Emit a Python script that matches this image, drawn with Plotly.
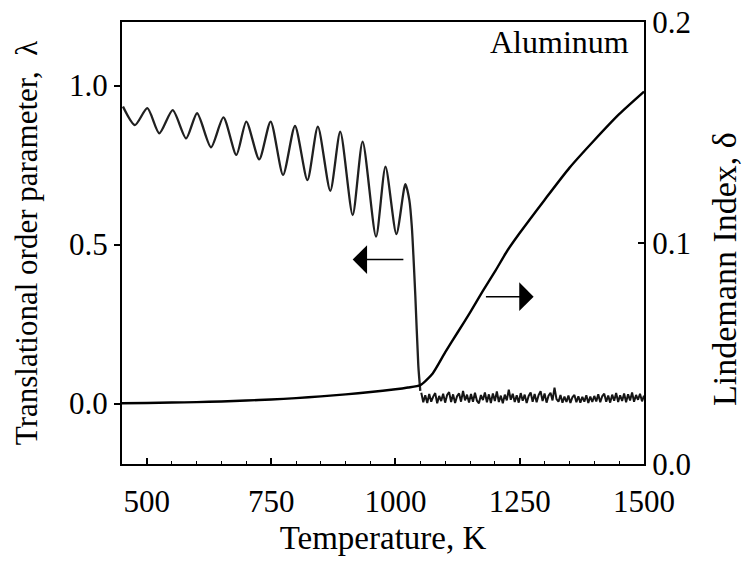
import plotly.graph_objects as go

# Translational order parameter (left axis) - oscillating solid part
T_solid = [452, 476, 501, 525, 552, 579, 601, 629, 654, 680, 700, 726, 749, 774,
           798, 823, 844, 869, 889, 914, 934, 961, 980, 1002, 1020, 1028, 1033,
           1040, 1046, 1050]
lam_solid = [0.934, 0.876, 0.929, 0.850, 0.923, 0.834, 0.913, 0.806, 0.900, 0.782,
             0.887, 0.768, 0.887, 0.719, 0.873, 0.703, 0.871, 0.669, 0.855, 0.593,
             0.824, 0.525, 0.745, 0.533, 0.690, 0.640, 0.556, 0.340, 0.120, 0.040]

# Liquid part (noisy around zero), sampled every 4 K from 1052 K
T_liquid = list(range(1052, 1501, 4))
lam_liquid = [
    0.034, 0.004, 0.026, 0.002, 0.030, 0.006, 0.022, 0.033, 0.001, 0.024,
    0.008, 0.031, 0.003, 0.027, 0.036, 0.005, 0.029, 0.002, 0.023, 0.032,
    0.006, 0.040, 0.010, 0.028, 0.003, 0.030, 0.006, 0.034, 0.009, 0.001,
    0.027, 0.011, 0.035, 0.004, 0.029, 0.002, 0.032, 0.008, 0.038, 0.005,
    0.025, 0.001, 0.028, 0.010, 0.044, 0.012, 0.031, 0.005, 0.026, 0.003,
    0.033, 0.009, 0.028, 0.002, 0.024, 0.035, 0.006, 0.030, 0.004, 0.027,
    0.039, 0.008, 0.032, 0.003, 0.025, 0.034, 0.010, 0.050, 0.014, 0.006,
    0.027, 0.003, 0.022, 0.005, 0.025, 0.002, 0.020, 0.027, 0.004, 0.023,
    0.003, 0.021, 0.006, 0.026, 0.002, 0.022, 0.005, 0.024, 0.007, 0.029,
    0.004, 0.023, 0.031, 0.006, 0.025, 0.003, 0.028, 0.009, 0.033, 0.005,
    0.026, 0.008, 0.032, 0.004, 0.029, 0.010, 0.035, 0.006, 0.027, 0.012,
    0.031, 0.007, 0.025,
]

# Lindemann index (right axis)
T_delta = [450, 500, 550, 600, 650, 700, 750, 800, 850, 900, 950, 1000, 1025,
           1050, 1075, 1100, 1125, 1150, 1175, 1200, 1225, 1250, 1300, 1350,
           1400, 1450, 1500]
delta = [0.0275, 0.0276, 0.0278, 0.0280, 0.0283, 0.0287, 0.0292, 0.0298, 0.0306,
         0.0315, 0.0326, 0.0338, 0.0346, 0.0357, 0.0410, 0.0505, 0.0595, 0.0685,
         0.0780, 0.0870, 0.0965, 0.1045, 0.1195, 0.1340, 0.1465, 0.1583, 0.1685]

x_ticks = [500, 750, 1000, 1250, 1500]
y_ticks = [0.0, 0.5, 1.0]
y2_ticks = [0.0, 0.1, 0.2]

FONT = "Liberation Serif"
FS = 31

fig = go.Figure()
fig.add_trace(go.Scatter(x=T_solid, y=lam_solid, mode="lines",
                         line=dict(color="#202020", width=2.3, shape="spline", smoothing=0.7),
                         showlegend=False))
fig.add_trace(go.Scatter(x=T_liquid, y=lam_liquid, mode="lines",
                         line=dict(color="#151515", width=2),
                         showlegend=False))
fig.add_trace(go.Scatter(x=T_delta, y=delta, mode="lines", yaxis="y2",
                         line=dict(color="black", width=2.4, shape="spline", smoothing=0.6),
                         showlegend=False))

fig.update_layout(
    width=749, height=562,
    margin=dict(l=122, r=105, t=22, b=98),
    paper_bgcolor="white", plot_bgcolor="white",
    font=dict(family=FONT, size=FS, color="black"),
    xaxis=dict(range=[450, 1500], tickvals=x_ticks, ticks="inside", ticklen=6,
               tickwidth=1.5, tickcolor="black", automargin=False,
               minor=dict(dtick=50, ticks="inside", ticklen=3, tickcolor="black", tickwidth=1),
               showline=True, linecolor="black", linewidth=2, mirror=True,
               showgrid=False, zeroline=False, ticklabelstandoff=9,
               title=dict(text="Temperature, K", standoff=8, font=dict(size=33))),
    yaxis=dict(range=[-0.19, 1.2], tickvals=y_ticks, tickformat=".1f",
               ticks="outside", ticklen=6, tickwidth=1.5, tickcolor="black",
               showline=True, linecolor="black", linewidth=2, automargin=False,
               showgrid=False, zeroline=False,
               title=dict(text="Translational order parameter,  λ", standoff=22,
                          font=dict(size=31))),
    yaxis2=dict(range=[0, 0.2], tickvals=y2_ticks, tickformat=".1f",
                overlaying="y", side="right", automargin=False,
                ticks="inside", ticklen=6, tickwidth=1.5, tickcolor="black",
                showline=True, linecolor="black", linewidth=2,
                showgrid=False, zeroline=False),
    annotations=[
        dict(text="Aluminum", xref="paper", yref="paper", x=0.975, y=1.0,
             xanchor="right", yanchor="top", showarrow=False,
             font=dict(size=32)),
        dict(text="Lindemann Index, δ", xref="paper", yref="paper",
             x=1.153, y=0.441, xanchor="center", yanchor="middle",
             textangle=-90, showarrow=False, borderpad=0, font=dict(size=34)),
        dict(x=914, y=0.453, ax=1019, ay=0.453, xref="x", yref="y",
             axref="x", ayref="y", text="", showarrow=True,
             arrowhead=1, arrowsize=3, arrowwidth=1.6, arrowcolor="black"),
        dict(x=1278, y=0.0757, ax=1179, ay=0.0757, xref="x", yref="y2",
             axref="x", ayref="y2", text="", showarrow=True,
             arrowhead=1, arrowsize=3, arrowwidth=1.6, arrowcolor="black"),
    ],
)

fig.write_html("out.html")
